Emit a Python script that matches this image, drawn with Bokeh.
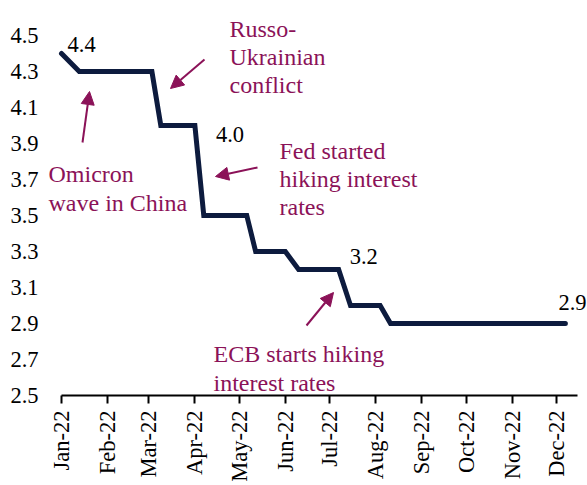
from datetime import datetime, timedelta
import math
from bokeh.plotting import figure
from bokeh.models import (Range1d, FixedTicker, Label, Arrow, NormalHead)
from bokeh.embed import file_html
from bokeh.resources import INLINE

# ---------------- data ----------------
dates = ["2022-01-01", "2022-01-13", "2022-03-03", "2022-03-09", "2022-04-01",
         "2022-04-07", "2022-05-06", "2022-05-12", "2022-06-01", "2022-06-10",
         "2022-07-07", "2022-07-15", "2022-08-04", "2022-08-11", "2022-12-07"]
values = [4.4, 4.3, 4.3, 4.0, 4.0, 3.5, 3.5, 3.3, 3.3, 3.2, 3.2, 3.0, 3.0, 2.9, 2.9]

# indices of points carrying a value label
value_label_idx = [0, 4, 10, 14]

month_ticks = ["2022-01-01", "2022-02-01", "2022-03-01", "2022-04-01", "2022-05-01",
               "2022-06-01", "2022-07-01", "2022-08-01", "2022-09-01", "2022-10-01",
               "2022-11-01", "2022-12-01"]
month_labels = ["Jan-22", "Feb-22", "Mar-22", "Apr-22", "May-22", "Jun-22",
                "Jul-22", "Aug-22", "Sep-22", "Oct-22", "Nov-22", "Dec-22"]
y_ticks = [2.5, 2.7, 2.9, 3.1, 3.3, 3.5, 3.7, 3.9, 4.1, 4.3, 4.5]

annotations = [
    ["Russo-", "Ukrainian", "conflict"],
    ["Omicron", "wave in China"],
    ["Fed started", "hiking  interest", "rates"],
    ["ECB starts hiking", "interest rates"],
]

# ---------------- styling / layout helpers ----------------
LINE_COLOR = "#0D1B3E"
ANN_COLOR = "#8B1258"
FONT = "Liberation Serif"

def to_dt(s):
    return datetime.strptime(s, "%Y-%m-%d")

JAN1 = datetime(2022, 1, 1)
PX_PER_DAY = 1.482

def X(px):  # canvas pixel -> date (for layout placement)
    return JAN1 + timedelta(days=(px - 61) / PX_PER_DAY)

def Y(py):  # canvas pixel -> value (for layout placement)
    return 4.5 - (py - 35) / 180.0

W, H = 587, 485
FRAME_LEFT, FRAME_BOTTOM = 45, 395

xs = [to_dt(d) for d in dates]

p = figure(width=W, height=H, x_axis_type="datetime",
           output_backend="svg", toolbar_location=None,
           x_range=Range1d(X(FRAME_LEFT), X(W)), y_range=Range1d(Y(FRAME_BOTTOM), Y(0)),
           min_border_left=FRAME_LEFT, min_border_right=0, min_border_top=0,
           min_border_bottom=H - FRAME_BOTTOM)
p.outline_line_color = None
p.xgrid.grid_line_color = None
p.ygrid.grid_line_color = None
p.background_fill_color = "white"
p.border_fill_color = "white"

p.line(xs, values, line_width=5, line_color=LINE_COLOR,
       line_join="miter", line_cap="round")

# x axis
xa = p.xaxis[0]
xa.bounds = (JAN1, X(577))
xa.ticker = FixedTicker(ticks=[to_dt(t).timestamp() * 1000 - 0 for t in []] or
                        [(to_dt(t) - datetime(1970, 1, 1)).total_seconds() * 1000 for t in month_ticks],
                        minor_ticks=[])
xa.major_label_overrides = {(to_dt(t) - datetime(1970, 1, 1)).total_seconds() * 1000: lab
                            for t, lab in zip(month_ticks, month_labels)}
xa.major_label_orientation = math.pi / 2
xa.axis_line_color = "black"
xa.axis_line_width = 2
xa.major_tick_line_color = "black"
xa.major_tick_line_width = 2
xa.major_tick_out = 8
xa.major_tick_in = 0
xa.minor_tick_line_color = None
xa.major_label_standoff = 7
xa.major_label_text_font = FONT
xa.major_label_text_font_size = "22.5px"
xa.major_label_text_color = "black"

# y axis
ya = p.yaxis[0]
ya.ticker = FixedTicker(ticks=y_ticks, minor_ticks=[])
ya.major_label_overrides = {t: f"{t:.1f}" for t in y_ticks}
ya.axis_line_color = None
ya.major_tick_line_color = None
ya.minor_tick_line_color = None
ya.major_tick_out = 0
ya.major_tick_in = 0
ya.major_label_standoff = 7
ya.major_label_text_font = FONT
ya.major_label_text_font_size = "22.5px"
ya.major_label_text_color = "black"

# value labels (offsets in screen px from their data point)
value_offsets = [(6, 9), (21, -9), (11, 13), (-7, 21)]
for i, (dx, dy) in zip(value_label_idx, value_offsets):
    p.add_layout(Label(x=xs[i], y=values[i], x_offset=dx, y_offset=dy,
                       text=f"{values[i]:.1f}", text_font=FONT,
                       text_font_size="22.5px", text_color="black",
                       text_baseline="alphabetic", text_align="left"))

# annotation text blocks: (left px, first baseline px, line spacing px)
ann_pos = [(229, 28, 28), (48, 173, 29), (279, 150, 28), (213, 353, 29)]
for lines, (lx, by, sp) in zip(annotations, ann_pos):
    for k, line in enumerate(lines):
        p.add_layout(Label(x=X(lx), y=Y(by + k * sp), text=line, text_font=FONT,
                           text_font_size="24px", text_color=ANN_COLOR,
                           text_baseline="alphabetic", text_align="left"))

# arrows (start px, tip px)
arrows = [((204, 59), (170, 88)),
          ((82, 142), (89, 91)),
          ((257, 167), (215, 176)),
          ((306, 325), (333, 292))]
for (sx, sy), (ex, ey) in arrows:
    p.add_layout(Arrow(x_start=X(sx), y_start=Y(sy), x_end=X(ex), y_end=Y(ey),
                       line_color=ANN_COLOR, line_width=2,
                       end=NormalHead(size=13, fill_color=ANN_COLOR,
                                      line_color=ANN_COLOR)))

open("out.html", "w").write(file_html(p, INLINE))
